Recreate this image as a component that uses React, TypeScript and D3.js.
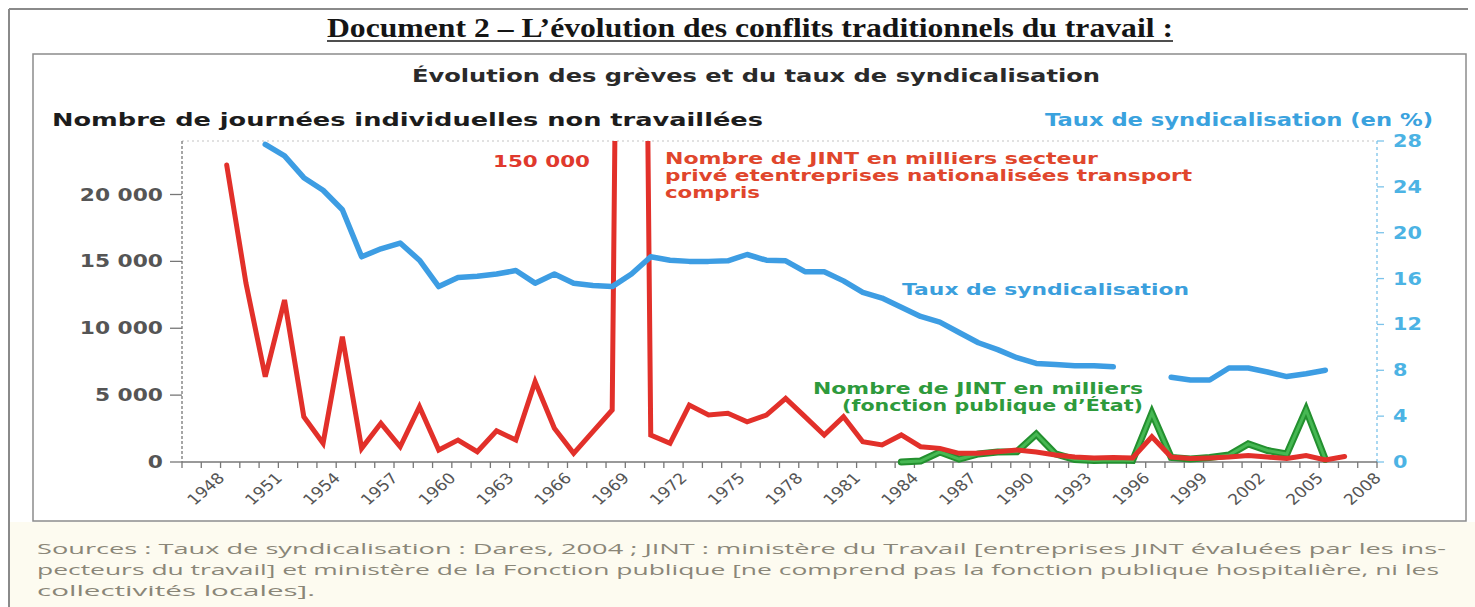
import React from "react";
import * as d3 from "d3";

const W = 1475;
const H = 607;

// Axis: years printed under the chart
const AXIS_FIRST_YEAR = 1946;
const AXIS_LAST_YEAR = 2008;
const X_TICK_LABELS = ["1948","1951","1954","1957","1960","1963","1966","1969","1972","1975","1978","1981","1984","1987","1990","1993","1996","1999","2002","2005","2008"];
// The printed year labels sit ~1.3 year to the left of where the series are drawn
const AXIS_LAG = 1.32;

const LEFT_TICKS = [0, 5000, 10000, 15000, 20000];
const LEFT_TICK_LABELS = ["0", "5 000", "10 000", "15 000", "20 000"];
const LEFT_MAX = 24000;
const RIGHT_TICKS = [0, 4, 8, 12, 16, 20, 24, 28];
const RIGHT_MAX = 28;

// JINT (milliers) secteur privé et entreprises nationalisées, transport compris
const jintPrive: [number, number][] = [
  [1947, 22200], [1948, 13360], [1949, 6380], [1950, 12110], [1951, 3390], [1952, 1400],
  [1953, 9370], [1954, 1020], [1955, 2890], [1956, 1140], [1957, 4130], [1958, 900],
  [1959, 1640], [1960, 770], [1961, 2330], [1962, 1640], [1963, 6000], [1964, 2520],
  [1965, 650], [1966, 2270], [1967, 3890], [1968, 150000], [1969, 2020], [1970, 1400],
  [1971, 4260], [1972, 3510], [1973, 3640], [1974, 3010], [1975, 3510], [1976, 4760],
  [1977, 3390], [1978, 2020], [1979, 3390], [1980, 1520], [1981, 1270], [1982, 2020],
  [1983, 1140], [1984, 1020], [1985, 650], [1986, 650], [1987, 770], [1988, 900],
  [1989, 750], [1990, 520], [1991, 370], [1992, 300], [1993, 340], [1994, 300],
  [1995, 1890], [1996, 370], [1997, 260], [1998, 300], [1999, 370], [2000, 490],
  [2001, 370], [2002, 260], [2003, 490], [2004, 150], [2005, 410],
];

// JINT (milliers) fonction publique d'État
const jintEtat: [number, number][] = [
  [1982, 0], [1983, 75], [1984, 750], [1985, 220], [1986, 600], [1987, 750], [1988, 770],
  [1989, 2090], [1990, 600], [1991, 190], [1992, 110], [1993, 150], [1994, 110],
  [1995, 3660], [1996, 340], [1997, 220], [1998, 340], [1999, 520], [2000, 1350],
  [2001, 860], [2002, 600], [2003, 3890], [2004, 190],
];

// Taux de syndicalisation (%)
const tauxSyndic: [number, number | null][] = [
  [1949, 27.7], [1950, 26.7], [1951, 24.8], [1952, 23.7], [1953, 22.0], [1954, 17.9],
  [1955, 18.6], [1956, 19.1], [1957, 17.6], [1958, 15.3], [1959, 16.1], [1960, 16.2],
  [1961, 16.4], [1962, 16.7], [1963, 15.6], [1964, 16.4], [1965, 15.6], [1966, 15.4],
  [1967, 15.3], [1968, 16.4], [1969, 17.9], [1970, 17.6], [1971, 17.5], [1972, 17.5],
  [1973, 17.55], [1974, 18.1], [1975, 17.6], [1976, 17.55], [1977, 16.6], [1978, 16.6],
  [1979, 15.8], [1980, 14.8], [1981, 14.3], [1982, 13.5], [1983, 12.7], [1984, 12.2],
  [1985, 11.3], [1986, 10.4], [1987, 9.8], [1988, 9.1], [1989, 8.6], [1990, 8.5],
  [1991, 8.4], [1992, 8.4], [1993, 8.3], [1994, null], [1995, null], [1996, 7.4],
  [1997, 7.15], [1998, 7.15], [1999, 8.2], [2000, 8.2], [2001, 7.85], [2002, 7.45],
  [2003, 7.7], [2004, 8.0],
];

const SANS = "'DejaVu Sans', Verdana, sans-serif";
const RED = "#e2302a";
const BLUE = "#3d9de3";
const GREEN_DARK = "#23902f";
const GREEN_LIGHT = "#46b853";

export default function App() {
  const X0 = 182, X1 = 1377, YTOP = 141, YBASE = 462;

  const xAxis = d3.scaleLinear().domain([AXIS_FIRST_YEAR, AXIS_LAST_YEAR]).range([X0, X1]);
  const xData = d3.scaleLinear()
    .domain([AXIS_FIRST_YEAR - AXIS_LAG, AXIS_LAST_YEAR - AXIS_LAG])
    .range([X0, X1]);
  const yL = d3.scaleLinear().domain([0, LEFT_MAX]).range([YBASE, YTOP]);
  const yR = d3.scaleLinear().domain([0, RIGHT_MAX]).range([YBASE, YTOP]);

  const lineL = d3.line<[number, number]>().x(d => xData(d[0])).y(d => yL(d[1]));
  const lineR = d3.line<[number, number | null]>()
    .defined(d => d[1] !== null)
    .x(d => xData(d[0]))
    .y(d => yR(d[1] as number));

  const yearTicks = d3.range(AXIS_FIRST_YEAR, AXIS_LAST_YEAR + 1);

  return (
    <svg width={W} height={H} viewBox={`0 0 ${W} ${H}`}
      style={{ position: "absolute", left: 0, top: 0, display: "block", background: "#fff" }}>
      <defs>
        <clipPath id="plotClip">
          <rect x={0} y={YTOP} width={W} height={H - YTOP} />
        </clipPath>
      </defs>

      {/* outer document frame */}
      <line x1={9} y1={9} x2={1468} y2={9} stroke="#8a8a8a" strokeWidth={2} />
      <line x1={9} y1={9} x2={9} y2={H} stroke="#8a8a8a" strokeWidth={2} />
      <rect x={10} y={522} width={W - 10} height={H - 522} fill="#fdfbf0" />

      {/* title */}
      <text x={327} y={37} fontFamily="'Liberation Serif', 'Times New Roman', serif" fontWeight="bold"
        fontSize={28} fill="#151515" textLength={846} lengthAdjust="spacingAndGlyphs">
        Document 2 – L’évolution des conflits traditionnels du travail :
      </text>
      <line x1={327} y1={41} x2={1173} y2={41} stroke="#151515" strokeWidth={1.6} />

      {/* chart box */}
      <rect x={33} y={54} width={1433} height={467} fill="#fff" stroke="#8c8c8c" strokeWidth={1.5} />

      <text x={412} y={82} fontFamily={SANS} fontWeight="bold" fontSize={17} fill="#2a2a2a"
        textLength={688} lengthAdjust="spacingAndGlyphs">
        Évolution des grèves et du taux de syndicalisation
      </text>
      <text x={52} y={126} fontFamily={SANS} fontWeight="bold" fontSize={17} fill="#1c1c1c"
        textLength={711} lengthAdjust="spacingAndGlyphs">
        Nombre de journées individuelles non travaillées
      </text>
      <text x={1045} y={126} fontFamily={SANS} fontWeight="bold" fontSize={17} fill="#3aa2de"
        textLength={388} lengthAdjust="spacingAndGlyphs">
        Taux de syndicalisation (en %)
      </text>

      {/* plot top border */}
      <line x1={X0} y1={YTOP} x2={X1} y2={YTOP} stroke="#c4c4c4" strokeWidth={1.2} strokeDasharray="2,3" />

      {/* left axis */}
      <line x1={X0} y1={YTOP} x2={X0} y2={YBASE} stroke="#777" strokeWidth={1.3} strokeDasharray="3,2" />
      {LEFT_TICKS.map((v, i) => (
        <g key={"l" + v}>
          <line x1={170} y1={yL(v)} x2={X0} y2={yL(v)} stroke="#777" strokeWidth={1.3} />
          <text transform={`translate(163,${yL(v) + 6}) scale(1.28,1)`} textAnchor="end"
            fontFamily={SANS} fontWeight="bold" fontSize={17} fill="#555">
            {LEFT_TICK_LABELS[i]}
          </text>
        </g>
      ))}

      {/* right axis */}
      <line x1={X1} y1={YTOP} x2={X1} y2={YBASE} stroke="#7cc3ea" strokeWidth={1.3} strokeDasharray="3,3" />
      {RIGHT_TICKS.map(v => (
        <g key={"r" + v}>
          <line x1={X1} y1={yR(v)} x2={X1 + 7} y2={yR(v)} stroke="#7cc3ea" strokeWidth={1.3} />
          <text transform={`translate(1393,${yR(v) + 6}) scale(1.22,1)`}
            fontFamily={SANS} fontWeight="bold" fontSize={17} fill="#4cb3e4">
            {v}
          </text>
        </g>
      ))}

      {/* x axis */}
      <line x1={X0} y1={YBASE} x2={X1} y2={YBASE} stroke="#777" strokeWidth={1.5} />
      {yearTicks.map(yr => (
        <line key={"t" + yr} x1={xAxis(yr)} y1={YBASE} x2={xAxis(yr)} y2={YBASE + 6}
          stroke="#777" strokeWidth={1.3} />
      ))}
      {X_TICK_LABELS.map(lbl => (
        <text key={"x" + lbl}
          transform={`translate(${xAxis(+lbl) + 5},${YBASE + 17}) scale(1.15,1) rotate(-45)`}
          textAnchor="end" fontFamily={SANS} fontSize={15} fill="#555">
          {lbl}
        </text>
      ))}

      {/* series */}
      <g clipPath="url(#plotClip)" fill="none">
        <path d={lineL(jintEtat) || ""} stroke={GREEN_DARK} strokeWidth={7} strokeLinejoin="miter" strokeLinecap="round" />
        <path d={lineL(jintEtat) || ""} stroke={GREEN_LIGHT} strokeWidth={3} strokeLinejoin="miter" strokeLinecap="round" />
        <path d={lineL(jintPrive) || ""} stroke={RED} strokeWidth={5} strokeLinejoin="miter" strokeLinecap="round" />
        <path d={lineR(tauxSyndic) || ""} stroke={BLUE} strokeWidth={5.5} strokeLinejoin="round" strokeLinecap="round" />
      </g>

      {/* annotations */}
      <text x={493} y={167} fontFamily={SANS} fontWeight="bold" fontSize={16} fill="#e0392d"
        textLength={97} lengthAdjust="spacingAndGlyphs">150 000</text>
      <g fontFamily={SANS} fontWeight="bold" fontSize={15} fill="#e0462c">
        <text x={665} y={164} textLength={433} lengthAdjust="spacingAndGlyphs">Nombre de JINT en milliers secteur</text>
        <text x={665} y={181} textLength={527} lengthAdjust="spacingAndGlyphs">privé etentreprises nationalisées  transport</text>
        <text x={665} y={198} textLength={95} lengthAdjust="spacingAndGlyphs">compris</text>
      </g>
      <text x={902} y={295} fontFamily={SANS} fontWeight="bold" fontSize={15} fill="#3b9fdd"
        textLength={287} lengthAdjust="spacingAndGlyphs">Taux de syndicalisation</text>
      <g fontFamily={SANS} fontWeight="bold" fontSize={15} fill="#2e9a3c">
        <text x={813} y={394} textLength={330} lengthAdjust="spacingAndGlyphs">Nombre de JINT en milliers</text>
        <text x={842} y={411} textLength={301} lengthAdjust="spacingAndGlyphs">(fonction publique d’État)</text>
      </g>

      {/* sources */}
      <g fontFamily="'Open Sans', 'Liberation Sans', sans-serif" fontSize={15} fill="#8a8678">
        <text x={37} y={554} textLength={1409} lengthAdjust="spacingAndGlyphs">
          Sources : Taux de syndicalisation : Dares, 2004 ; JINT : ministère du Travail [entreprises JINT évaluées par les ins-
        </text>
        <text x={37} y={575} textLength={1402} lengthAdjust="spacingAndGlyphs">
          pecteurs du travail] et ministère de la Fonction publique [ne comprend pas la fonction publique hospitalière, ni les
        </text>
        <text x={37} y={596} textLength={278} lengthAdjust="spacingAndGlyphs">
          collectivités locales].
        </text>
      </g>
    </svg>
  );
}
